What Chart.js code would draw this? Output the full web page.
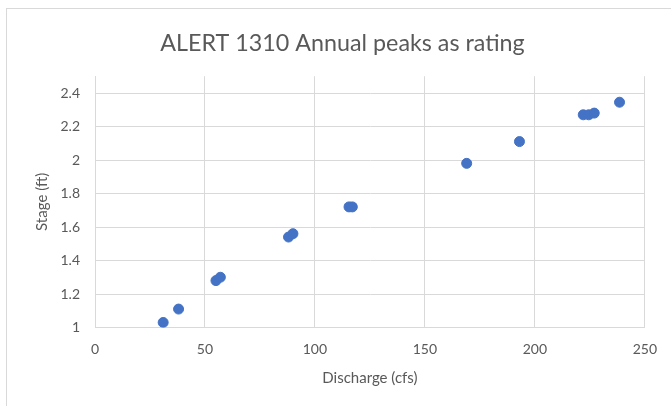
<!DOCTYPE html>
<html>
<head>
<meta charset="utf-8">
<title>ALERT 1310 Annual peaks as rating</title>
<script src="https://cdn.jsdelivr.net/npm/chart.js@4.4.1/dist/chart.umd.min.js"></script>
<style>
  html, body { margin: 0; padding: 0; background: #ffffff; }
  #wrap { position: relative; width: 671px; height: 406px; overflow: hidden; }
  #frame { position: absolute; left: 6px; top: 8px; width: 700px; height: 420px;
           border-left: 1px solid #d9d9d9; border-top: 1px solid #d9d9d9; }
  canvas { position: absolute; left: 0; top: 0; }
</style>
</head>
<body>
<div id="wrap">
  <div id="frame"></div>
  <canvas id="chart" width="671" height="406"></canvas>
</div>
<script>
// Annual peak discharge (cfs) and the matching stage (ft) at ALERT gauge 1310
const discharge = [31, 38, 55, 57, 88, 90, 115.5, 117, 169, 193, 222, 224.5, 227, 238.5];
const stage     = [1.03, 1.11, 1.28, 1.30, 1.54, 1.56, 1.72, 1.72, 1.98, 2.11, 2.27, 2.27, 2.28, 2.345];

// Axis tick values
const xTicks = [0, 50, 100, 150, 200, 250];
const yTicks = [1, 1.2, 1.4, 1.6, 1.8, 2, 2.2, 2.4];

const points = discharge.map((q, i) => ({ x: q, y: stage[i] }));

const textColor = '#595959';
const gridColor = '#d9d9d9';
const fontFamily = 'Lato, "Open Sans", sans-serif';

new Chart(document.getElementById('chart'), {
  type: 'scatter',
  data: {
    datasets: [{
      label: 'Annual peaks',
      data: points,
      backgroundColor: '#4472C4',
      borderColor: '#4472C4',
      borderWidth: 1,
      pointRadius: 5,
      pointHoverRadius: 5
    }]
  },
  options: {
    responsive: false,
    animation: false,
    events: [],
    layout: { padding: { left: 40, right: 26, top: 8, bottom: 0 } },
    plugins: {
      legend: { display: false },
      tooltip: { enabled: false },
      title: {
        display: true,
        text: 'ALERT 1310 Annual peaks as rating',
        color: textColor,
        font: { family: fontFamily, size: 23.3, weight: 'normal' },
        padding: { top: 21, bottom: 19.3 }
      }
    },
    scales: {
      x: {
        type: 'linear',
        min: 0,
        max: 250,
        afterBuildTicks: s => { s.ticks = xTicks.map(v => ({ value: v })); },
        afterFit: s => { s.height = 78.5; },
        ticks: {
          color: textColor,
          font: { family: fontFamily, size: 14 },
          padding: 14,
          maxRotation: 0
        },
        grid: { color: gridColor, drawTicks: false, lineWidth: 1 },
        border: { color: gridColor, width: 1 },
        title: {
          display: true,
          text: 'Discharge (cfs)',
          color: textColor,
          font: { family: fontFamily, size: 15 },
          padding: { top: 0, bottom: 19 }
        }
      },
      y: {
        type: 'linear',
        min: 1,
        max: 2.5,
        afterBuildTicks: s => { s.ticks = yTicks.map(v => ({ value: v })); },
        afterFit: s => { s.width = 55; },
        ticks: {
          color: textColor,
          font: { family: fontFamily, size: 14 },
          padding: 15,
          callback: v => String(+v.toFixed(1))
        },
        grid: { color: gridColor, drawTicks: false, lineWidth: 1 },
        border: { color: gridColor, width: 1 },
        title: {
          display: true,
          text: 'Stage (ft)',
          color: textColor,
          font: { family: fontFamily, size: 15 },
          padding: { top: -6.7, bottom: 0 }
        }
      }
    }
  }
});
</script>
</body>
</html>
